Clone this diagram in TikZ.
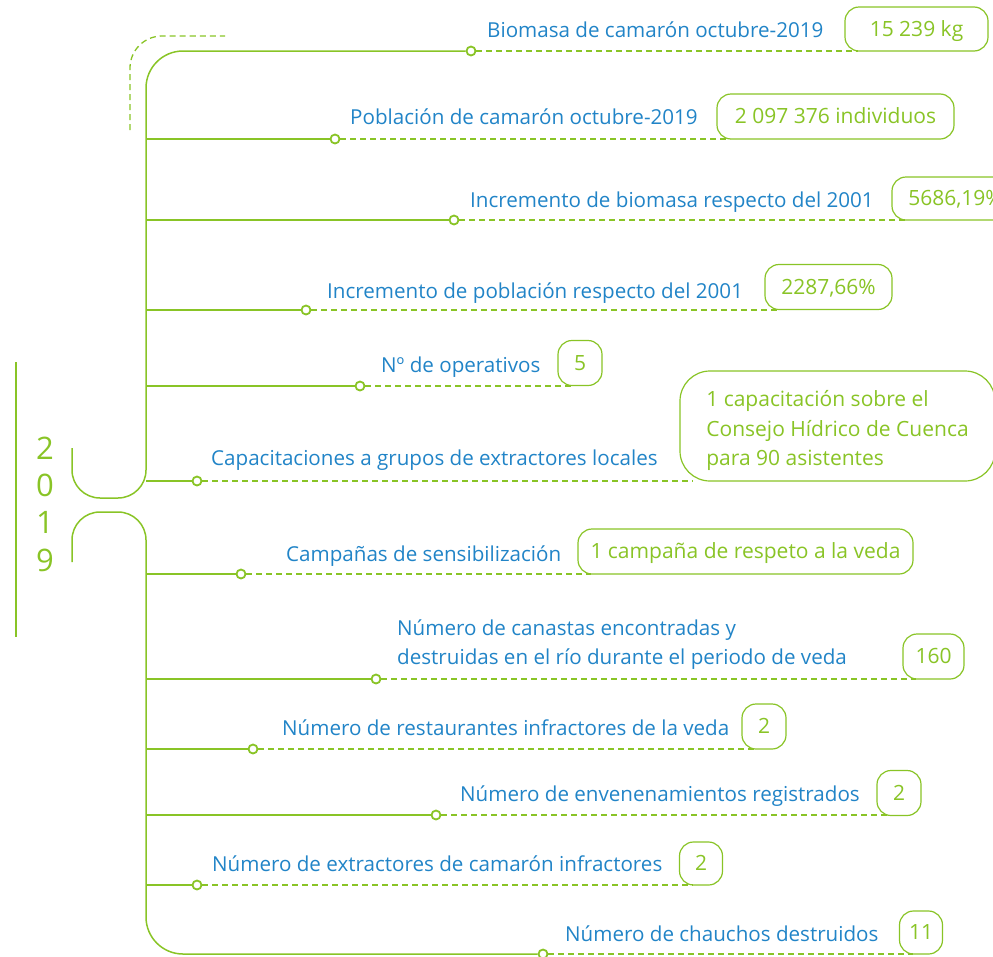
\documentclass[tikz,border=0pt]{standalone}
\usepackage{fontspec}
\setmainfont{Open Sans}
\usetikzlibrary{calc}
\definecolor{lima}{RGB}{137,196,38}
\definecolor{azul}{RGB}{33,132,199}

\begin{document}
\begin{tikzpicture}[x=1pt, y=-1pt,
    trunk/.style={draw=lima, line width=1.5pt},
    lead/.style={draw=lima, line width=1.3pt, dash pattern=on 6pt off 4pt},
    dot/.style={circle, draw=lima, fill=white, line width=1.8pt, inner sep=0pt, minimum size=9pt},
    lbl/.style={anchor=base west, inner sep=0pt, text=azul, font=\fontsize{20.6}{25}\selectfont},
    yr/.style={text=lima, inner sep=0pt, font=\fontsize{31}{35}\selectfont},
    box/.style={draw=lima, line width=1.2pt, fill=white, text=lima, inner sep=0pt, font=\fontsize{21}{25}\selectfont},
    val/.style={box, rounded corners=14pt, text height=16pt, text depth=2pt}]

    \useasboundingbox (0, 0) rectangle (993, 956);

    \coordinate (tr) at (146, 0);

    \node[dot] (c1) at (471, 51) {};
    \node[dot] (c2) at (335, 139) {};
    \node[dot] (c3) at (454, 220) {};
    \node[dot] (c4) at (306, 310) {};
    \node[dot] (c5) at (360, 386) {};
    \node[dot] (c6) at (197, 481) {};
    \node[dot] (c7) at (241, 574) {};
    \node[dot] (c8) at (376, 679) {};
    \node[dot] (c9) at (253, 749) {};
    \node[dot] (c10) at (436, 815) {};
    \node[dot] (c11) at (197, 885) {};
    \node[dot] (c12) at (543, 954) {};

    \node[lbl] (t1) at (487, 37) {Biomasa de camarón octubre-2019};
    \node[lbl] (t2) at (350, 124) {Población de camarón octubre-2019};
    \node[lbl] (t3) at (470, 207) {Incremento de biomasa respecto del 2001};
    \node[lbl] (t4) at (327, 298) {Incremento de población respecto del 2001};
    \node[lbl] (t5) at (381, 372) {Nº de operativos};
    \node[lbl] (t6) at (211, 465) {Capacitaciones a grupos de extractores locales};
    \node[lbl] (t7) at (286, 561) {Campañas de sensibilización};
    \node[lbl] (t8a) at (397, 635) {Número de canastas encontradas y};
    \node[lbl] (t8b) at (397, 664) {destruidas en el río durante el periodo de veda};
    \node[lbl] (t9) at (282, 735) {Número de restaurantes infractores de la veda};
    \node[lbl] (t10) at (460, 801) {Número de envenenamientos registrados};
    \node[lbl] (t11) at (212, 871) {Número de extractores de camarón infractores};
    \node[lbl] (t12) at (565, 941) {Número de chauchos destruidos};

    \node[val, minimum width=143pt, minimum height=44pt] (b1) at (916.5, 29) {15 239 kg};
    \node[val, minimum width=237pt, minimum height=45pt] (b2) at (835.5, 116.5) {2 097 376 individuos};
    \node[val, minimum width=127pt, minimum height=43pt] (b3) at (955.5, 198.5) {5686,19\%};
    \node[val, minimum width=127pt, minimum height=45pt] (b4) at (828.5, 287) {2287,66\%};
    \node[val, minimum width=44pt, minimum height=45pt] (b5) at (580, 363) {5};
    \node[box, rounded corners=30pt, align=left, minimum width=315pt, minimum height=110pt,
        font=\fontsize{21}{29.5}\selectfont] (b6) at (837.5, 426) {\rule{0pt}{26pt}1 capacitación sobre el\\ Consejo Hídrico de Cuenca\\ para 90 asistentes};
    \node[val, minimum width=335pt, minimum height=45pt] (b7) at (745.5, 551.5) {1 campaña de respeto a la veda};
    \node[val, minimum width=61pt, minimum height=45pt] (b8) at (933.5, 656.5) {160};
    \node[val, minimum width=44pt, minimum height=45pt] (b9) at (764, 726.5) {2};
    \node[val, minimum width=44pt, minimum height=45pt] (b10) at (899, 793) {2};
    \node[val, minimum width=43pt, minimum height=43pt] (b11) at (701, 863.5) {2};
    \node[val, minimum width=43pt, minimum height=43pt] (b12) at (921, 932.5) {11};

    \node[yr] (y1) at (45, 448) {2};
    \node[yr] (y2) at (45, 485) {0};
    \node[yr] (y3) at (45, 522) {1};
    \node[yr] (y4) at (45, 560) {9};

    \draw[trunk] (16, 362) -- (16, 637);
    \draw[lead] (130, 130) [rounded corners=32pt] -- (130, 36) -- (225, 36);

    \draw[trunk] (72, 448) [rounded corners=28pt] -- (72, 498) -- (146, 498) -- (146, 300) [rounded corners=37pt] -- (146, 51) -- (c1);
    \draw[trunk] (72, 562) [rounded corners=28pt] -- (72, 512) -- (146, 512) -- (146, 700) [rounded corners=37pt] -- (146, 954) -- (c12);

    \foreach \i in {2, 3, 4, 5, 6, 7, 8, 9, 10, 11}
        \draw[trunk] (tr |- c\i) -- (c\i);

    \draw[lead] (c1) -- ($(c1 -| b1.west)+(14, 0)$);
    \draw[lead] (c2) -- ($(c2 -| b2.west)+(14, 0)$);
    \draw[lead] (c3) -- ($(c3 -| b3.west)+(14, 0)$);
    \draw[lead] (c4) -- ($(c4 -| b4.west)+(14, 0)$);
    \draw[lead] (c5) -- ($(c5 -| b5.west)+(14, 0)$);
    \draw[lead] (c6) -- ($(c6 -| b6.west)+(14, 0)$);
    \draw[lead] (c7) -- ($(c7 -| b7.west)+(14, 0)$);
    \draw[lead] (c8) -- ($(c8 -| b8.west)+(14, 0)$);
    \draw[lead] (c9) -- ($(c9 -| b9.west)+(14, 0)$);
    \draw[lead] (c10) -- ($(c10 -| b10.west)+(14, 0)$);
    \draw[lead] (c11) -- ($(c11 -| b11.west)+(14, 0)$);
    \draw[lead] (c12) -- ($(c12 -| b12.west)+(14, 0)$);

\end{tikzpicture}
\end{document}
